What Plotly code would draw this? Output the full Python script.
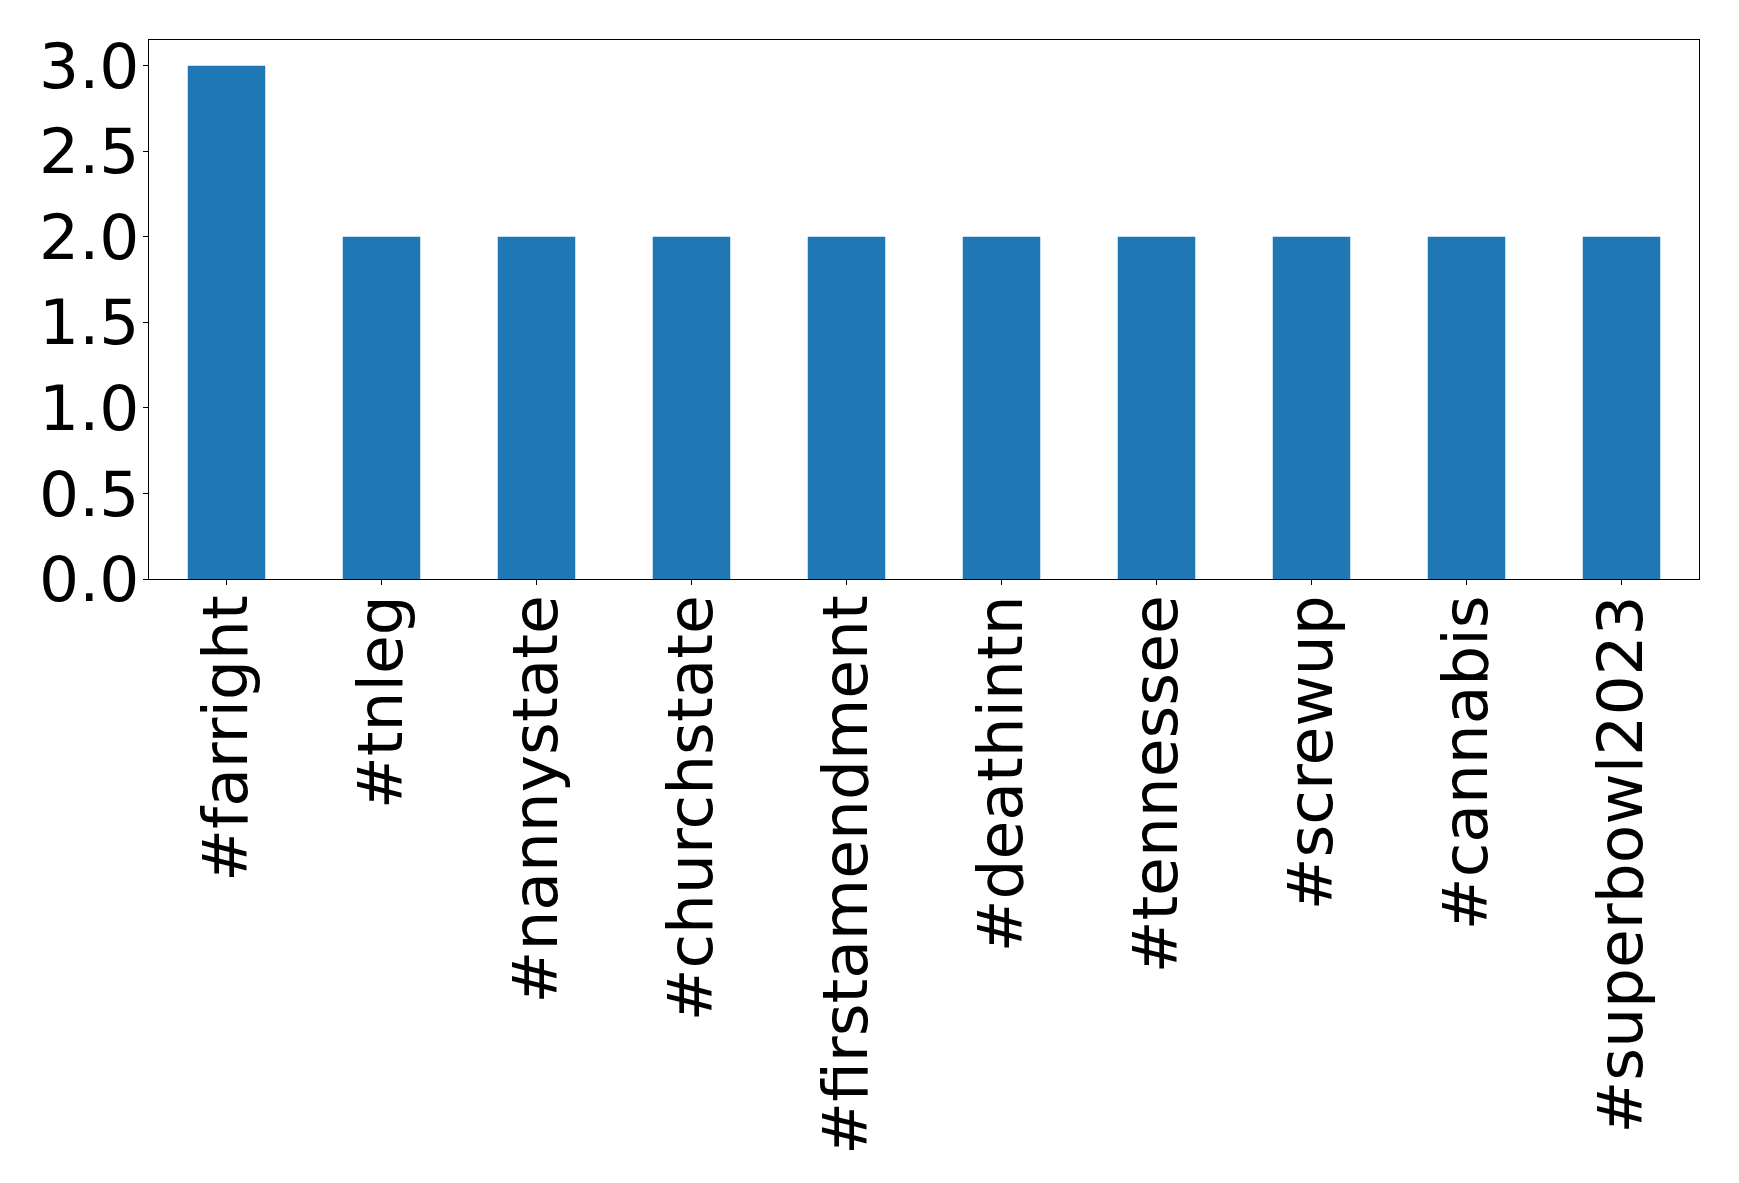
import plotly.graph_objects as go

categories = ["#farright", "#tnleg", "#nannystate", "#churchstate", "#firstamendment",
              "#deathintn", "#tennessee", "#screwup", "#cannabis", "#superbowl2023"]
counts = [3, 2, 2, 2, 2, 2, 2, 2, 2, 2]
y_ticks = [0.0, 0.5, 1.0, 1.5, 2.0, 2.5, 3.0]

fig = go.Figure(go.Bar(x=categories, y=counts, marker_color="#1f77b4",
                       marker_line_width=0, width=0.5))

axis_common = dict(showline=True, linecolor="black", linewidth=1.3, mirror=True,
                   ticks="outside", ticklen=5, tickwidth=1.3, tickcolor="black",
                   showgrid=False, zeroline=False,
                   tickfont=dict(family="DejaVu Sans", size=63, color="black"))

fig.update_layout(
    width=1723, height=1167, autosize=False,
    margin=dict(l=141, r=32, t=32, b=596),
    plot_bgcolor="white", paper_bgcolor="white",
    showlegend=False, bargap=0.5,
    xaxis=dict(**axis_common, tickangle=-90, range=[-0.5, 9.5], ticklabelstandoff=-15),
    yaxis=dict(**axis_common, range=[0, 3.15], tickvals=y_ticks,
               ticktext=[f"{v:.1f}" for v in y_ticks], ticklabelstandoff=-9),
)

fig.write_html("out.html")
